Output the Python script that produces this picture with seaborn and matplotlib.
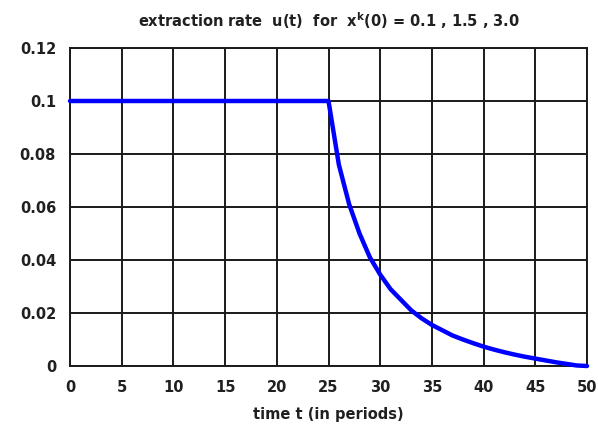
import matplotlib
matplotlib.use("Agg")
import matplotlib.pyplot as plt
import seaborn as sns
import pandas as pd

# extraction rate per period
t_values = [0, 5, 10, 15, 20, 25, 26, 27, 28, 29, 30, 31, 32, 33, 34, 35, 36, 37,
            38, 39, 40, 41, 42, 43, 44, 45, 46, 47, 48, 49, 50]
u_values = [0.1, 0.1, 0.1, 0.1, 0.1, 0.1, 0.076, 0.061, 0.050, 0.041, 0.0345,
            0.029, 0.025, 0.021, 0.018, 0.0155, 0.0135, 0.0115, 0.0100, 0.0086,
            0.0073, 0.0062, 0.0052, 0.0043, 0.0035, 0.0028, 0.0021, 0.0014,
            0.0008, 0.0002, 0.0]
x_ticks = [0, 5, 10, 15, 20, 25, 30, 35, 40, 45, 50]
y_ticks = [0, 0.02, 0.04, 0.06, 0.08, 0.1, 0.12]
y_tick_labels = ["0", "0.02", "0.04", "0.06", "0.08", "0.1", "0.12"]

df = pd.DataFrame({"t": t_values, "u": u_values})

sns.set_style("white")
plt.rcParams["font.family"] = ["DejaVu Sans"]
plt.rcParams["mathtext.fontset"] = "dejavusans"

fig = plt.figure(figsize=(5.98, 4.25), dpi=100)
ax = fig.add_axes([70 / 598, 1 - 366 / 425, 517 / 598, 318 / 425])

ax.set_xlim(0, 50)
ax.set_ylim(0, 0.12)
ax.set_xticks(x_ticks)
ax.set_yticks(y_ticks)
ax.set_yticklabels(y_tick_labels)
ax.grid(True, color="#1a1a1a", linewidth=1.4)
ax.set_axisbelow(True)
for s in ax.spines.values():
    s.set_color("#1a1a1a")
    s.set_linewidth(1.4)

sns.lineplot(data=df, x="t", y="u", ax=ax, color="#0000ff", linewidth=3.2,
             clip_on=False, zorder=3)

fs = 10.5
txt = "#202020"
ax.tick_params(axis="both", length=0, labelsize=fs, colors=txt, pad=10)
for lab in ax.get_xticklabels() + ax.get_yticklabels():
    lab.set_fontweight("bold")
ax.set_xlabel("time t (in periods)", fontsize=fs, color=txt, labelpad=9,
              fontweight="bold")
ax.set_ylabel("")
ax.set_title(r"extraction rate  u(t)  for  x$^{\mathbf{k}}$(0) = 0.1 , 1.5 , 3.0",
             fontsize=fs, color=txt, pad=15, fontweight="bold")

fig.savefig("out.png", dpi=100)
